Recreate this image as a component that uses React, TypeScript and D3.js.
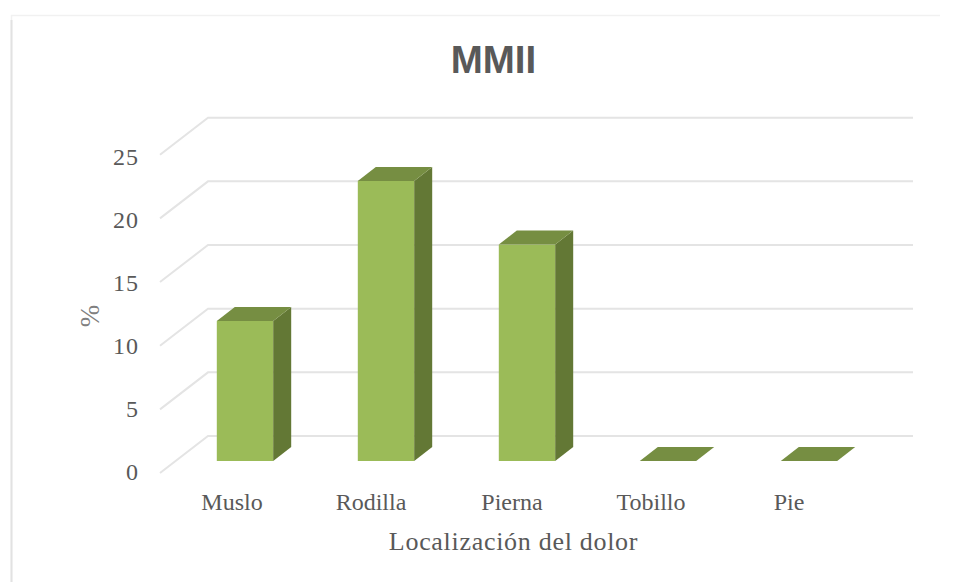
import React from "react";
import * as d3 from "d3";

const categories = ["Muslo", "Rodilla", "Pierna", "Tobillo", "Pie"];
const values = [11, 22, 17, 0, 0];
const yTicks = [0, 5, 10, 15, 20, 25];
const labelOffsets = [-13, -15, -15, -17, -20];
const title = "MMII";
const xTitle = "Localización del dolor";
const yTitle = "%";

const serif = "'Liberation Serif', serif";
const textColor = "#595959";
const gridColor = "#e4e4e4";

export default function App() {
  const x = d3.scaleBand<string>().domain(categories).range([174.5, 879.5]).paddingInner(0.6).paddingOuter(0.3);
  const y = d3.scaleLinear().domain([0, 25]).range([461, 142.7]);
  const yLabel = d3.scaleLinear().domain([0, 25]).range([480, 165]);
  const dx = 18;
  const dy = 14;
  const gridDx = 48;
  const gridFrontX = 160;
  const gridEndX = 913;
  const gridFrontOffset = 12;
  const gridBackOffset = 25;
  const poly = (pts: [number, number][]) => pts.map((p) => p.join(",")).join(" ");

  return (
    <svg
      width={959}
      height={582}
      style={{ position: "absolute", left: 0, top: 0, background: "#fff" }}
    >
      <defs>
        <filter id="soft" x="-5%" y="-5%" width="110%" height="110%">
          <feGaussianBlur stdDeviation="0.5" />
        </filter>
      </defs>
      <path d="M11.5 582V15.5H940" fill="none" stroke="#f1f1f1" strokeWidth={1.5} />
      <path d="M11.5 582V20" fill="none" stroke="#e2e2e2" strokeWidth={2} />
      <text x={493.5} y={73} textAnchor="middle" fontFamily="'Liberation Sans', sans-serif" fontWeight={700} fontSize={38.5} fill={textColor}>
        {title}
      </text>

      <g filter="url(#soft)">
        {yTicks.map((t) => {
          const yFront = y(t) + gridFrontOffset;
          const yBack = y(t) - gridBackOffset;
          return (
            <polyline key={t} points={poly([[gridFrontX, yFront], [gridFrontX + gridDx, yBack], [gridEndX, yBack]])} fill="none" stroke={gridColor} strokeWidth={2} />
          );
        })}
      </g>

      {yTicks.map((t) => (
        <text key={t} x={139} y={yLabel(t)} textAnchor="end" fontFamily={serif} fontSize={24} letterSpacing={1} fill={textColor}>
          {t}
        </text>
      ))}

      <g filter="url(#soft)">
        {categories.map((c, i) => {
          const x0 = x(c)!;
          const x1 = x0 + x.bandwidth();
          const yb = y(0);
          const yt = y(values[i]);
          return (
            <g key={c}>
              {values[i] > 0 && <rect x={x0} y={yt} width={x1 - x0} height={yb - yt} fill="#9bbb59" />}
              {values[i] > 0 && (
                <polygon points={poly([[x1, yt], [x1 + dx, yt - dy], [x1 + dx, yb - dy], [x1, yb]])} fill="#647834" />
              )}
              <polygon points={poly([[x0, yt], [x0 + dx, yt - dy], [x1 + dx, yt - dy], [x1, yt]])} fill="#768e42" />
            </g>
          );
        })}
      </g>

      {categories.map((c, i) => (
        <text key={c} x={x(c)! + x.bandwidth() / 2 + labelOffsets[i]} y={510} textAnchor="middle" fontFamily={serif} fontSize={24} fill={textColor}>
          {c}
        </text>
      ))}

      <text x={513.5} y={550} textAnchor="middle" fontFamily={serif} fontSize={26} letterSpacing={0.7} fill={textColor}>
        {xTitle}
      </text>
      <text transform="translate(99,316) rotate(-90)" textAnchor="middle" fontFamily={serif} fontSize={27} fill="#808080">
        {yTitle}
      </text>
    </svg>
  );
}
